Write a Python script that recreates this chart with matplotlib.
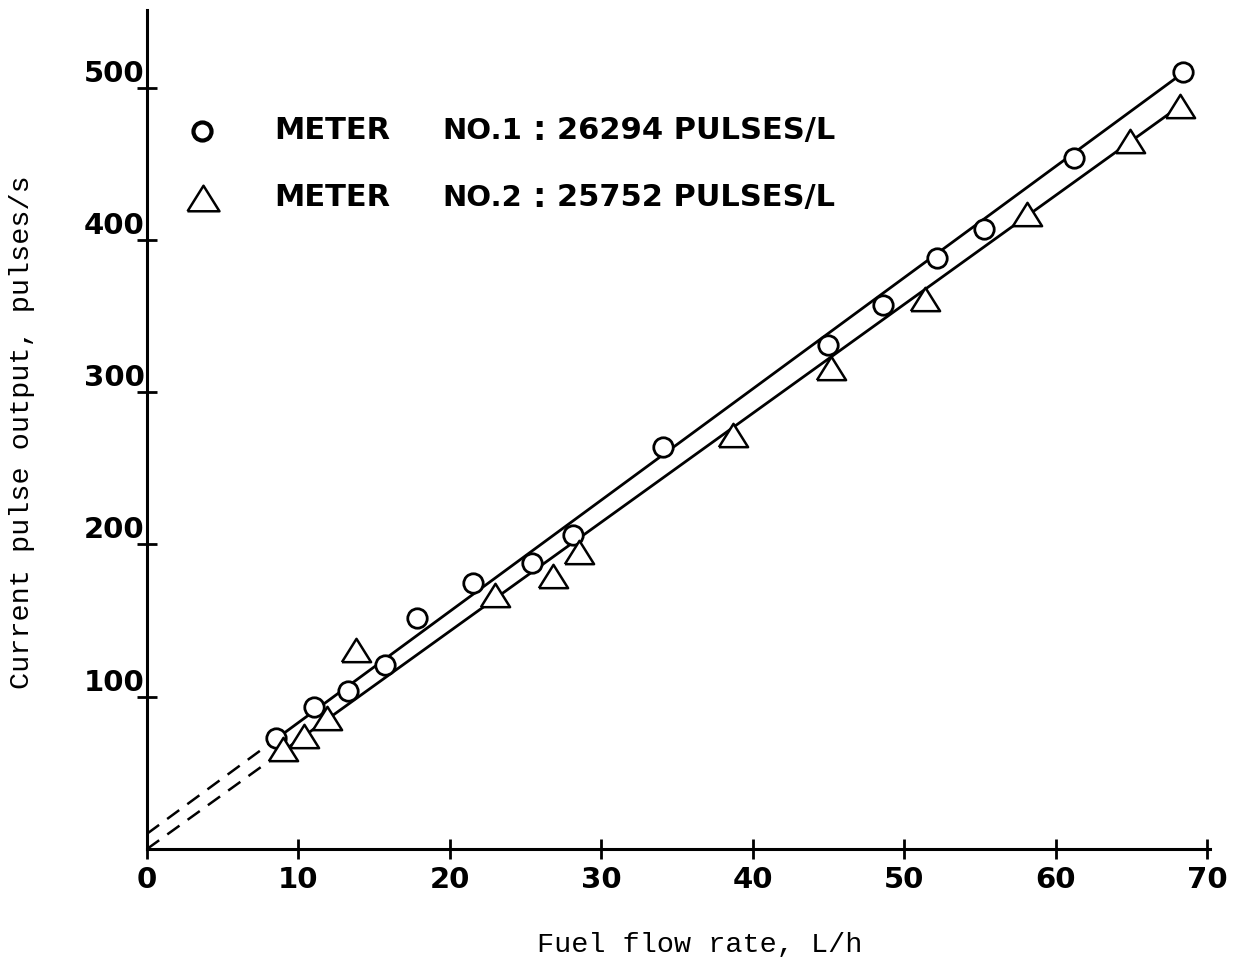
import matplotlib
matplotlib.use("Agg")
import matplotlib.pyplot as plt
import matplotlib.transforms as mtransforms
import numpy as np

# meter No.1 (circles)
flow_1 = [8.5, 11.0, 13.3, 15.7, 17.8, 21.5, 25.4, 28.1, 34.1, 45.0, 48.6, 52.2, 55.3, 61.2, 68.4]
pulse_1 = [73, 93, 104, 121, 152, 175, 188, 206, 264, 331, 357, 388, 407, 454, 510]

# meter No.2 (triangles)
flow_2 = [9.0, 10.4, 11.9, 13.8, 23.0, 26.8, 28.5, 38.7, 45.2, 51.4, 58.1, 64.9, 68.2]
pulse_2 = [66, 74, 86, 131, 167, 179, 195, 272, 316, 361, 417, 465, 488]

# calibration lines: pulses/L -> pulses/s per L/h, plus intercept
k_factor_1 = 26294
k_factor_2 = 25752
offset_1 = 10.0
offset_2 = 0.0

x_ticks = [0, 10, 20, 30, 40, 50, 60, 70]
y_ticks = [100, 200, 300, 400, 500]

legend_rows = [("NO.1", "26294 PULSES/L"), ("NO.2", "25752 PULSES/L")]

fig = plt.figure(figsize=(12.36, 9.77), dpi=100)
ax = fig.add_axes([147 / 1236, 128 / 977, 1063 / 1236, 839 / 977])

lw = 2.0
# fitted lines, dashed near origin
for k, off, x_start, x_end in [(k_factor_1, offset_1, 9.0, 68.4), (k_factor_2, offset_2, 9.3, 68.2)]:
    slope = k / 3600.0
    xs = np.array([0, x_start])
    ax.plot(xs, off + slope * xs, color="black", lw=1.8, ls=(0, (6, 4)))
    xs = np.array([x_start, x_end])
    ax.plot(xs, off + slope * xs, color="black", lw=lw)

tri = [(-1, -0.8), (1, -0.8), (0, 0.8), (-1, -0.8)]
ax.plot(flow_1, pulse_1, ls="none", marker="o", ms=14, mfc="white", mec="black", mew=2.0)
ax.plot(flow_2, pulse_2, ls="none", marker=tri, ms=21, mfc="white", mec="black", mew=1.8)

ax.set_xlim(0, 70.2)
ax.set_ylim(0, 551)
ax.spines["top"].set_visible(False)
ax.spines["right"].set_visible(False)
ax.spines["left"].set_linewidth(2.2)
ax.spines["bottom"].set_linewidth(2.2)

ax.set_xticks(x_ticks)
ax.set_xticklabels([str(v) for v in x_ticks])
ax.set_yticks(y_ticks)
ax.set_yticklabels([str(v) for v in y_ticks])
ax.tick_params(axis="both", direction="inout", length=14, width=2.0)
ax.tick_params(axis="x", pad=5, labelsize=21)
ax.tick_params(axis="y", pad=2, labelsize=21)
for lab in ax.get_xticklabels() + ax.get_yticklabels():
    lab.set_fontweight("bold")
shift = mtransforms.ScaledTranslation(0.10, 0.17, fig.dpi_scale_trans)
for lab in ax.get_yticklabels():
    lab.set_transform(lab.get_transform() + shift)

mono = ["Liberation Mono", "DejaVu Sans Mono"]
fig.text(22 / 1236, 1 - 432 / 977, "Current pulse output, pulses/s", rotation=90,
         ha="center", va="center", fontsize=20.5, family=mono)
fig.text(700 / 1236, 1 - 945 / 977, "Fuel flow rate, L/h",
         ha="center", va="center", fontsize=20.5, family=mono)

# legend drawn as text
tr = ax.transAxes
ax.plot([0.0517], [0.856], transform=tr, marker="o", ms=13, mfc="white", mec="black", mew=3.0, clip_on=False)
ax.plot([0.053], [0.776], transform=tr, marker=tri, ms=23, mfc="white", mec="black", mew=1.8, clip_on=False)
for (num, rate), yy in zip(legend_rows, [0.856, 0.776]):
    ax.text(0.120, yy, "METER", transform=tr, fontsize=22, fontweight="bold", va="center")
    ax.text(0.278, yy, num, transform=tr, fontsize=21, fontweight="bold", va="center")
    ax.text(0.362, yy, ":", transform=tr, fontsize=24, fontweight="bold", va="center")
    ax.text(0.386, yy, rate, transform=tr, fontsize=22, fontweight="bold", va="center")

fig.savefig("out.png", dpi=100)
